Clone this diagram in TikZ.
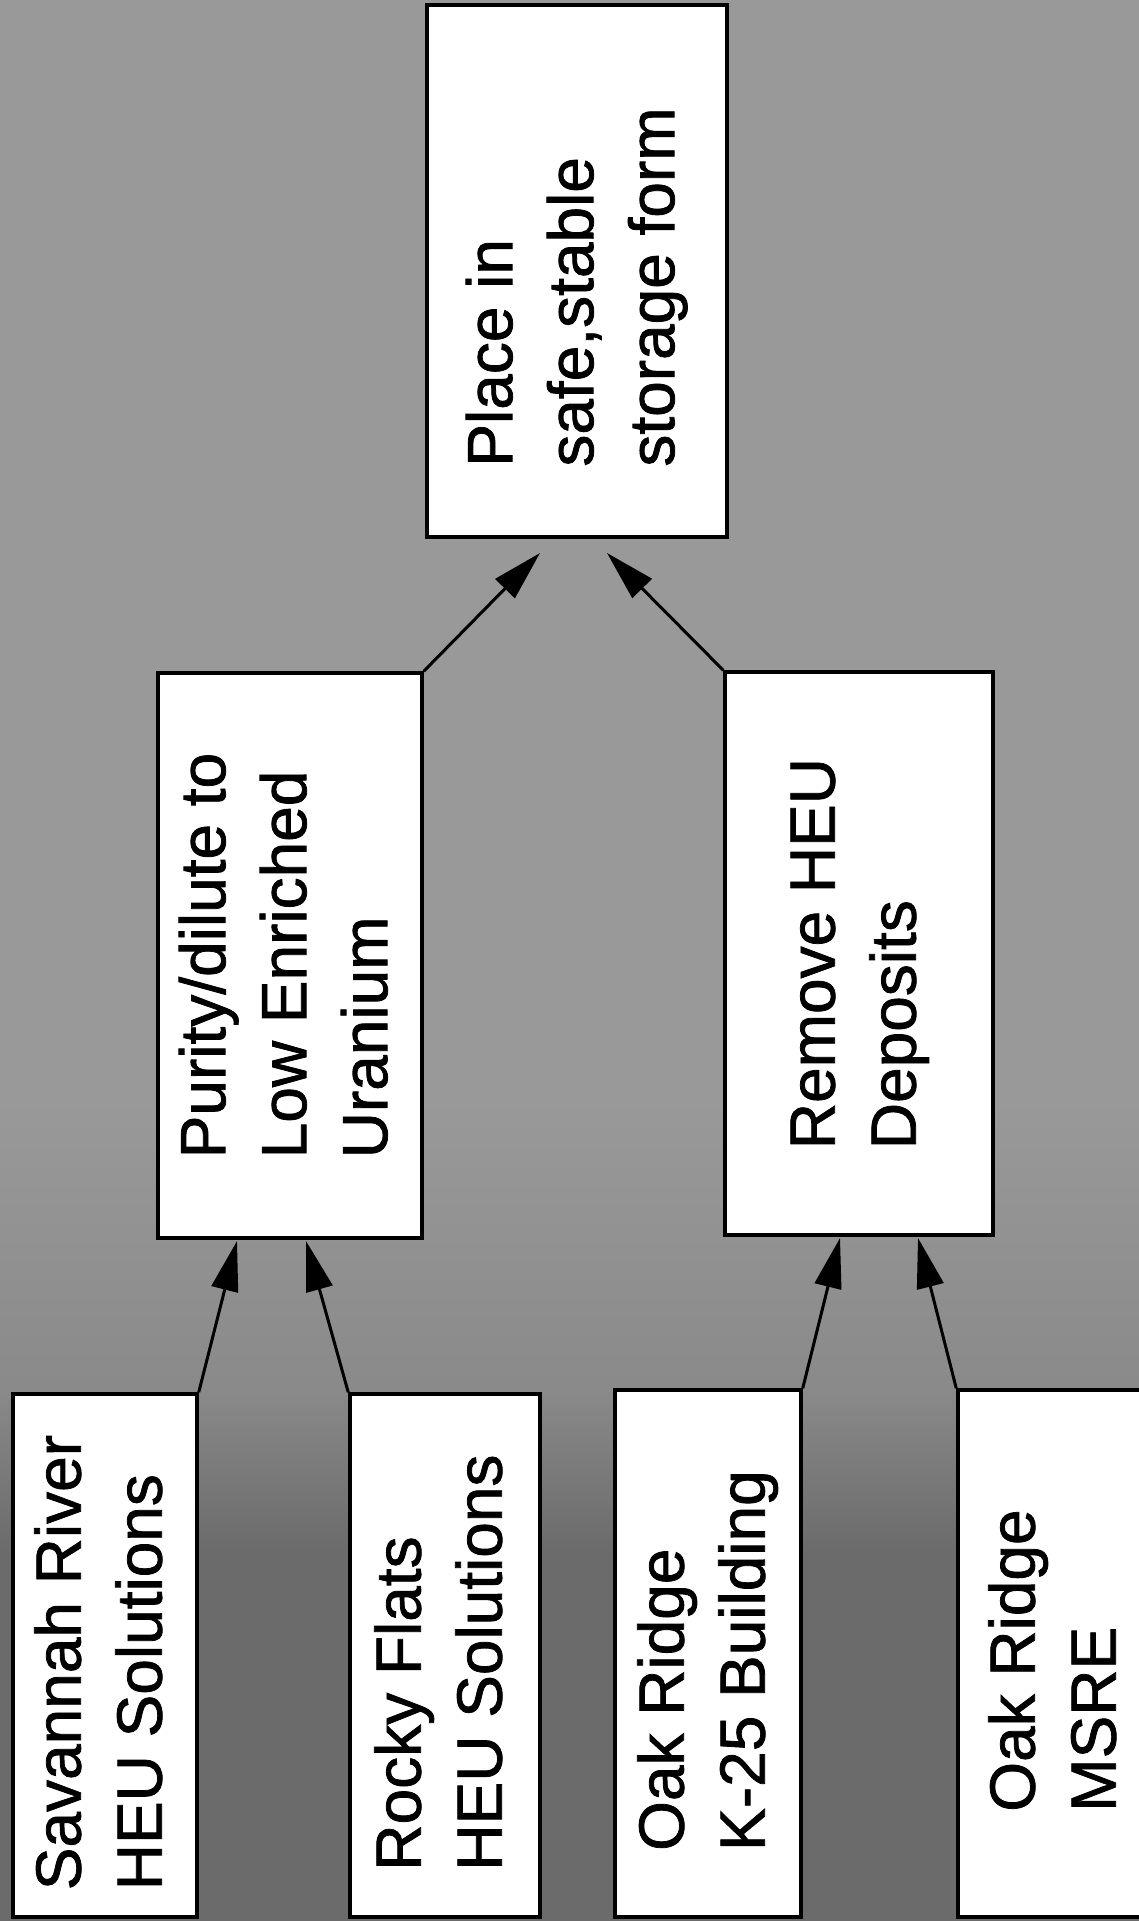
\documentclass[tikz,border=0pt]{standalone}
\usepackage{fontspec}
\setmainfont{Liberation Sans}
\newfontfamily\boxfont{Liberation Sans}[FakeBold=1.2]
\usetikzlibrary{arrows.meta}
\newcommand{\rtext}[2][0pt]{\rotatebox{90}{\begin{tabular}{@{}l@{}}#2\end{tabular}\hspace{#1}}}
\definecolor{bgtop}{gray}{0.60}
\definecolor{bgmid}{gray}{0.54}
\definecolor{bgbot}{gray}{0.42}
\begin{document}
\begin{tikzpicture}[x=1pt,y=-1pt,
  box/.style={draw=black,line width=3.5pt,fill=white,inner sep=0pt,
    font=\boxfont\fontsize{64}{81}\selectfont},
  arr/.style={line width=3pt,-{Triangle[length=50pt,width=27pt]}}]
\useasboundingbox (0,0) rectangle (1139,1921);
% background
\fill[bgtop] (0,0) rectangle (1139,1100);
\shade[top color=bgtop,bottom color=bgmid] (0,1100) rectangle (1139,1390);
\shade[top color=bgmid,bottom color=bgbot] (0,1390) rectangle (1139,1550);
\fill[bgbot] (0,1550) rectangle (1139,1921);
% boxes
\node[box,minimum width=300pt,minimum height=532pt] (store) at (577,271) {\rtext[32pt]{Place in\\safe,stable\\storage form}};
\node[box,minimum width=264pt,minimum height=565pt] (purity) at (290,955.5) {\rtext{Purity/dilute to\\Low Enriched\\Uranium}};
\node[box,minimum width=268pt,minimum height=563pt] (remove) at (859,953.5) {\rtext{Remove HEU\\Deposits}};
\node[box,minimum width=184pt,minimum height=523pt] (sav) at (105,1655.5) {\rtext[14pt]{Savannah River\\HEU Solutions}};
\node[box,minimum width=190pt,minimum height=523pt] (rocky) at (445,1655.5) {\rtext[14pt]{Rocky Flats\\HEU Solutions}};
\node[box,minimum width=186pt,minimum height=527pt] (k25) at (708,1653.5) {\rtext[14pt]{Oak Ridge\\K-25 Building}};
\node[box,minimum width=202pt,minimum height=527pt] (msre) at (1059,1653.5) {\rtext[14pt]{Oak Ridge\\MSRE}};
% arrow ends
\coordinate (t1) at (540,553);
\coordinate (t2) at (607,553);
\coordinate (t3) at (237,1241);
\coordinate (t4) at (306,1241);
\coordinate (t5) at (840,1238);
\coordinate (t6) at (918,1238);
% connectors
\draw[arr] (purity.north east) -- (t1);
\draw[arr] (remove.north west) -- (t2);
\draw[arr] (sav.north east) -- (t3);
\draw[arr] (rocky.north west) -- (t4);
\draw[arr] (k25.north east) -- (t5);
\draw[arr] (msre.north west) -- (t6);
\end{tikzpicture}
\end{document}
